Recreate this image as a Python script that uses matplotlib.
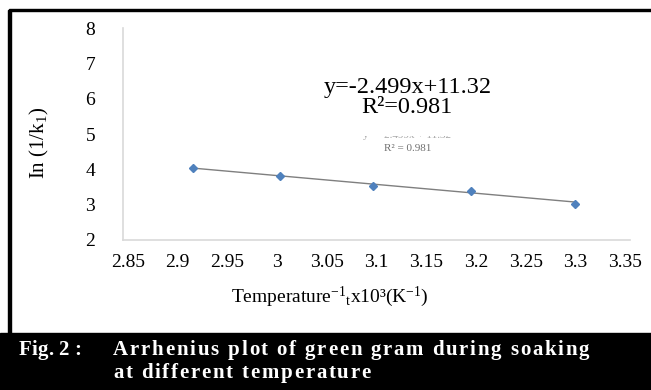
#!/usr/bin/env python3

'''
plot.py
  Arrhenius plot of green gram during soaking at different temperature.
  Line chart of ln(1/k1) against 1/T x 10^3 with a linear trendline.
'''

#
#   Packages and modules
#
import matplotlib
matplotlib.use('Agg')
from matplotlib import pyplot as plt
from matplotlib.patches import Rectangle
from matplotlib.font_manager import FontProperties


#
#   Data
#
inv_temp = [2.915, 3.003, 3.096, 3.195, 3.300]
ln_inv_k = [4.03, 3.82, 3.52, 3.40, 3.02]

# trendline printed on the chart
slope = -2.499
intercept = 11.32
r_squared = 0.981

x_ticks = [2.85, 2.90, 2.95, 3.00, 3.05, 3.10, 3.15, 3.20, 3.25, 3.30, 3.35]
x_tick_labels = ['2.85', '2.9', '2.95', '3', '3.05', '3.1',
                 '3.15', '3.2', '3.25', '3.3', '3.35']
y_ticks = [2, 3, 4, 5, 6, 7, 8]

caption_tag = 'Fig. 2 :'
caption_lines = ['Arrhenius plot of green gram during soaking',
                 'at different temperature']


#
#   Figure
#
plt.rcParams['font.family'] = ['Liberation Serif', 'DejaVu Serif']
plt.rcParams['mathtext.fontset'] = 'custom'
plt.rcParams['mathtext.rm'] = 'Liberation Serif'
plt.rcParams['mathtext.it'] = 'Liberation Serif:italic'

W, H = 651, 390
fig = plt.figure(figsize=(W / 100, H / 100), dpi=100)


def fx(px):
    return px / W


def fy(py):
    return 1 - py / H


def char_widths(s, size, weight):
    '''
    Width in pixels of each character of s, spaces as a quarter em.
    '''
    renderer = fig.canvas.get_renderer()
    prop = FontProperties(family=['Liberation Serif'], size=size,
                          weight=weight)
    widths = []
    for ch in s:
        if ch == ' ':
            widths.append(size * 100 / 72 * 0.25)
        else:
            w, _, _ = renderer.get_text_width_height_descent(ch, prop, False)
            widths.append(w)
    return widths


def tracked_text(x_px, y_px, s, size, tracking, **kw):
    '''
    Draw s character by character with extra spacing between letters.
    '''
    widths = char_widths(s, size, 'bold')
    x = x_px
    for ch, w in zip(s, widths):
        if ch != ' ':
            fig.text(fx(x), fy(y_px), ch, fontsize=size, fontweight='bold',
                     ha='left', va='center', **kw)
        x += w + tracking


# outer frame lines and black caption band
fig.patches.append(Rectangle((fx(9), fy(11)), fx(651 - 9), 2.5 / H,
                             transform=fig.transFigure, color='black'))
fig.patches.append(Rectangle((fx(8), fy(335)), 3 / W, (335 - 10) / H,
                             transform=fig.transFigure, color='black'))
fig.patches.append(Rectangle((0, 0), 1, fy(333),
                             transform=fig.transFigure, color='black'))

ax = fig.add_axes([fx(123), fy(240), fx(630 - 123), (240 - 28) / H])
ax.set_xlim(2.845, 3.355)
ax.set_ylim(2, 8)

# trendline from the printed equation
x_line = [inv_temp[0], inv_temp[-1]]
y_line = [slope * v + intercept for v in x_line]
ax.plot(x_line, y_line, color='#7f7f7f', linewidth=1.0, zorder=2)

# data points
ax.plot(inv_temp, ln_inv_k, linestyle='none', marker='D', markersize=4.5,
        color='#4f81bd', zorder=3)

# axes styling
for side in ['top', 'right']:
    ax.spines[side].set_visible(False)
for side in ['left', 'bottom']:
    ax.spines[side].set_color('#d9d9d9')
    ax.spines[side].set_linewidth(1.2)

ax.set_xticks(x_ticks)
ax.set_xticklabels(x_tick_labels)
ax.set_yticks(y_ticks)
ax.tick_params(axis='both', length=0, labelsize=14)
ax.tick_params(axis='x', pad=10)
ax.tick_params(axis='y', pad=20)

# faded original labels, partly hidden behind the retyped equation
ax.text(3.131, 4.96, 'y = -2.499x + 11.32', fontsize=8, color='#a8a8a8',
        ha='center', va='center', zorder=1)
ax.text(3.131, 4.60, 'R\u00b2 = 0.981', fontsize=8, color='#707070',
        ha='center', va='center', zorder=1)
ax.add_patch(Rectangle((3.048, 4.93), 0.151, 1.80, facecolor='white',
                       edgecolor='none', zorder=1.5))

eq_text = 'y=-2.499x+11.32\nR\u00b2={:.3f}'.format(r_squared)
ax.text(3.131, 6.03, eq_text, fontsize=17.5, ha='center', va='center',
        linespacing=0.9, zorder=4)

# axis labels
fig.text(fx(39), fy(143), 'In (1/k$_\\mathregular{1}$)', rotation=90,
         fontsize=15, ha='center', va='center')
fig.text(fx(330), fy(297),
         'Temperature$^{\\mathregular{-1}}$$_\\mathregular{t}$'
         'x10\u00b3(K$^{\\mathregular{-1}}$)',
         fontsize=14, ha='center', va='center')

# caption with letter spacing as in the printed figure
cap_size = 15
line1_w = sum(char_widths(caption_lines[0], cap_size, 'bold'))
tracking = (589 - 113 - line1_w) / (len(caption_lines[0]) - 1)
tracked_text(19, 350, caption_tag, cap_size, 0.0, color='white')
tracked_text(113, 350, caption_lines[0], cap_size, tracking, color='white')
tracked_text(113, 373, caption_lines[1], cap_size, tracking, color='white')

fig.savefig('out.png', dpi=100)
plt.close(fig)
